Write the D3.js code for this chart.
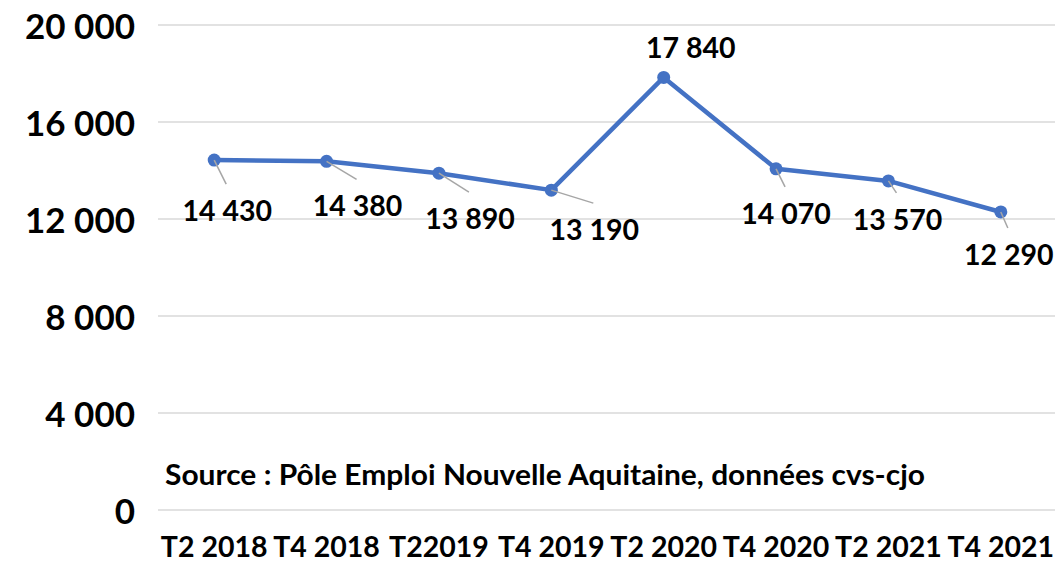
<!DOCTYPE html>
<html>
<head>
<meta charset="utf-8">
<script src="https://cdn.jsdelivr.net/npm/d3@7"></script>
<style>
  body { margin: 0; background: #fff; }
  text { font-family: Lato, "Open Sans", sans-serif; font-weight: bold; fill: #000; }
</style>
</head>
<body>
<div id="chart"></div>
<script>
// chart data
const quarters = ["T2 2018", "T4 2018", "T22019", "T4 2019", "T2 2020", "T4 2020", "T2 2021", "T4 2021"];
const jobseekers = [14430, 14380, 13890, 13190, 17840, 14070, 13570, 12290];
const yTicks = [0, 4000, 8000, 12000, 16000, 20000];
const sourceNote = "Source : Pôle Emploi Nouvelle Aquitaine, données cvs-cjo";

// label placement (label centre relative to its point, px), as laid out in the original
const labelOffsets = [[13, 50], [31, 44], [31, 45], [43, 39], [27, -30], [10, 44], [9, 38], [8, 42]];

const W = 1055, H = 562;
const PLOT = { left: 158, right: 1057, top: 25, bottom: 510 };

const svg = d3.select("#chart").append("svg")
  .attr("width", W)
  .attr("height", H);

const x = d3.scalePoint()
  .domain(quarters)
  .range([PLOT.left, PLOT.right])
  .padding(0.5);

const y = d3.scaleLinear()
  .domain([0, 20000])
  .range([PLOT.bottom, PLOT.top]);

// french thousands separator
const fmt = d3.formatLocale({ decimal: ",", thousands: " ", grouping: [3], currency: ["", " €"] }).format(",d");

// gridlines
svg.append("g")
  .selectAll("line")
  .data(yTicks)
  .join("line")
  .attr("x1", PLOT.left)
  .attr("x2", W)
  .attr("y1", d => y(d))
  .attr("y2", d => y(d))
  .attr("stroke", "#d9d9d9")
  .attr("stroke-width", 1.5);

// y axis labels
svg.append("g")
  .selectAll("text")
  .data(yTicks)
  .join("text")
  .attr("x", 135)
  .attr("y", d => y(d))
  .attr("text-anchor", "end")
  .attr("dominant-baseline", "central")
  .style("font-size", "35px")
  .text(d => fmt(d));

// x axis labels
svg.append("g")
  .selectAll("text")
  .data(quarters)
  .join("text")
  .attr("x", d => x(d))
  .attr("y", 546)
  .attr("text-anchor", "middle")
  .attr("dominant-baseline", "central")
  .style("font-size", "28.5px")
  .text(d => d);

// source note
svg.append("text")
  .attr("x", 165)
  .attr("y", 473)
  .attr("dominant-baseline", "central")
  .style("font-size", "29px")
  .attr("textLength", 760)
  .attr("lengthAdjust", "spacingAndGlyphs")
  .text(sourceNote);

const pts = quarters.map((q, i) => ({ q, v: jobseekers[i], off: labelOffsets[i] }));

// the line
svg.append("path")
  .datum(pts)
  .attr("fill", "none")
  .attr("stroke", "#4472c4")
  .attr("stroke-width", 4.5)
  .attr("stroke-linejoin", "round")
  .attr("d", d3.line().x(d => x(d.q)).y(d => y(d.v)));

// markers
svg.append("g")
  .selectAll("circle")
  .data(pts)
  .join("circle")
  .attr("cx", d => x(d.q))
  .attr("cy", d => y(d.v))
  .attr("r", 6.5)
  .attr("fill", "#4472c4");

// leader lines (not for labels above the point)
svg.append("g")
  .selectAll("line")
  .data(pts.filter(d => d.off[1] > 0))
  .join("line")
  .attr("x1", d => x(d.q))
  .attr("y1", d => y(d.v))
  .attr("x2", d => x(d.q) + d.off[0] - 1)
  .attr("y2", d => y(d.v) + d.off[1] - 26)
  .attr("stroke", "#a6a6a6")
  .attr("stroke-width", 1.5);

// data labels
svg.append("g")
  .selectAll("text")
  .data(pts)
  .join("text")
  .attr("x", d => x(d.q) + d.off[0])
  .attr("y", d => y(d.v) + d.off[1])
  .attr("text-anchor", "middle")
  .attr("dominant-baseline", "central")
  .style("font-size", "28.5px")
  .text(d => fmt(d.v));
</script>
</body>
</html>
